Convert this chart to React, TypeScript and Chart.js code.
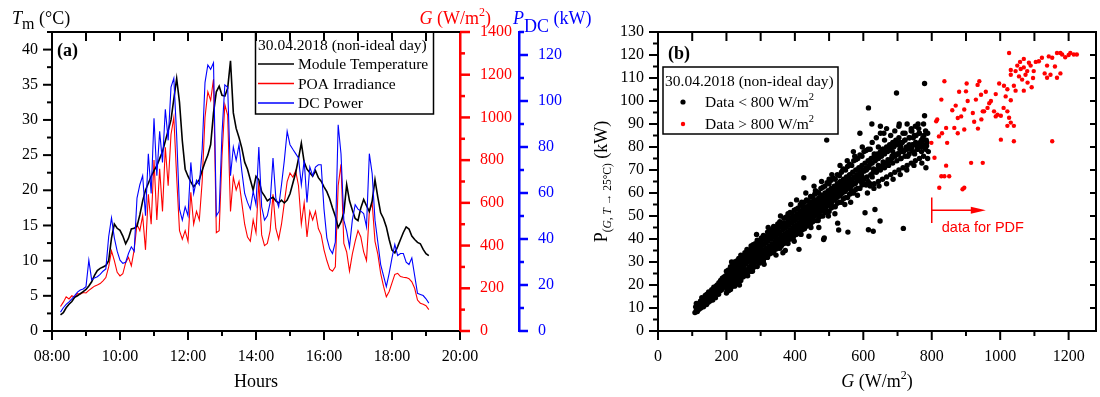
import React, { useEffect, useRef } from "react";
import { Chart, registerables } from "chart.js";

Chart.register(...registerables);

const SERIF = '"Liberation Serif", "Times New Roman", serif';
const SANS = '"Liberation Sans", Arial, sans-serif';
const RED = "#ff0000";
const BLUE = "#0000ff";

// ---------------- Panel (a): 30.04.2018 time series (5-min samples from 08:15) ----------------
const SAMPLE_START_HOUR = 8.25;
const SAMPLE_STEP_MIN = 5;

const MODULE_TEMP = [
  2.3, 2.6, 3.3, 3.8, 4.2, 4.8, 5.0, 5.3, 5.6, 5.9,
  6.4, 7.0, 7.9, 8.6, 8.9, 9.1, 9.3, 10.0, 13.2, 15.2,
  14.6, 14.3, 13.5, 12.4, 13.2, 14.5, 14.6, 14.9, 16.5, 18.5,
  20.0, 21.0, 22.0, 22.8, 23.5, 24.5, 25.5, 27.0, 28.5, 30.0,
  33.0, 35.9, 32.5, 27.0, 23.0, 22.0, 21.2, 20.5, 21.0, 21.5,
  22.8, 24.0, 25.0, 26.5, 31.0, 34.0, 34.8, 33.5, 33.4, 34.5,
  38.4, 31.0, 28.8, 27.5, 26.0, 24.0, 23.0, 21.5, 20.0, 22.0,
  21.5, 19.8, 19.2, 18.5, 18.8, 19.0, 18.5, 18.2, 18.6, 18.2,
  18.6, 19.5, 21.0, 22.5, 24.5, 26.7, 24.0, 23.0, 22.5, 22.0,
  22.8, 21.8, 21.3, 20.5, 19.8, 18.8, 17.5, 16.3, 14.7, 15.5,
  16.8, 20.8, 18.5, 17.2, 16.0, 15.7, 17.5, 18.7, 17.8, 17.0,
  18.5, 21.5, 19.0, 16.8, 16.0, 14.8, 13.0, 11.5, 11.1, 12.0,
  13.0, 14.0, 14.8, 14.5, 13.5, 13.0, 12.6, 12.4, 11.6, 11.0,
  10.7,
];

const POA_IRRADIANCE = [
  115, 135, 160, 150, 165, 158, 175, 172, 180, 178,
  190, 200, 210, 215, 222, 235, 250, 300, 375, 330,
  275, 258, 268, 320, 345, 305, 380, 500, 470, 540,
  380, 640, 500, 800, 520, 760, 560, 860, 680, 920,
  1000, 720, 470, 430, 470, 420, 650, 500, 560, 520,
  700, 1000, 1120, 1080, 1180, 460, 470, 820, 1060, 1010,
  560, 720, 660, 700, 600, 500, 440, 420, 520, 460,
  700, 450, 400, 410, 470, 640, 480, 430, 500, 600,
  700, 740, 720, 750, 680, 500, 600, 440, 560, 520,
  560, 480, 450, 380, 330, 290, 280, 300, 680, 780,
  410, 370, 280, 360, 420, 470, 440, 370, 330, 560,
  600, 420, 360, 270, 210, 160, 185, 225, 265, 270,
  255, 252, 250, 245, 230, 200, 145, 130, 125, 118,
  100,
];

const DC_POWER = [
  8.2, 10.1, 11.6, 12.7, 14.0, 15.4, 16.9, 17.8, 18.3, 19.3,
  30.8, 22.2, 23.1, 23.6, 24.6, 26.0, 27.0, 41.0, 49.2, 40.5,
  34.7, 30.8, 29.4, 29.9, 33.7, 36.6, 34.7, 57.8, 63.6, 67.5,
  50.1, 77.1, 59.8, 92.5, 67.5, 86.8, 73.3, 96.4, 82.9, 106.0,
  109.9, 84.8, 53.0, 48.2, 54.0, 50.1, 73.3, 59.8, 65.6, 63.6,
  79.0, 108.0, 115.7, 113.8, 116.6, 50.1, 52.1, 85.8, 107.0, 106.0,
  67.5, 80.0, 74.2, 81.0, 69.4, 59.8, 55.9, 53.0, 60.7, 54.9,
  80.0, 54.0, 48.2, 50.1, 55.9, 75.2, 57.8, 54.0, 63.6, 74.2,
  86.8, 81.0, 79.0, 77.1, 75.2, 63.6, 74.2, 55.9, 71.3, 67.5,
  71.3, 72.3, 72.3, 53.0, 40.5, 35.7, 33.7, 38.6, 89.7, 77.1,
  48.2, 43.4, 36.6, 48.2, 54.9, 53.0, 52.1, 51.1, 45.3, 77.1,
  68.4, 48.2, 38.6, 28.9, 24.1, 19.3, 25.1, 31.8, 37.6, 32.8,
  33.7, 33.7, 29.9, 28.9, 31.8, 24.1, 16.4, 15.9, 15.4, 14.0,
  12.1,
];

const HOUR_TICKS = [8, 10, 12, 14, 16, 18, 20];
const TEMP_TICKS = [0, 5, 10, 15, 20, 25, 30, 35, 40];
const IRR_TICKS = [0, 200, 400, 600, 800, 1000, 1200, 1400];
const POWER_TICKS = [0, 20, 40, 60, 80, 100, 120];
const LEGEND_A = ["Module Temperature", "POA Irradiance", "DC Power"];
const DAY_LABEL = "30.04.2018 (non-ideal day)";

// ---------------- Panel (b): P(G, T->25°C) vs G ----------------
const BELOW_800: number[][] = [
  [108,8],[110,10.5],[112,9],[114,11.5],[115,8.5],[117,10],[119,12],[120,9.5],[122,11],[124,13],
  [125,10],[127,12],[128,14.5],[130,11],[132,13],[133,10.5],[135,14],[137,12],[138,15.5],[140,13],
  [142,11.5],[143,16],[145,14],[147,12.5],[148,17],[150,15],[152,13],[153,16.5],[155,14.5],[157,18],
  [158,15.5],[160,13.5],[162,17],[163,19],[165,16],[167,18],[168,14.5],[170,19.5],[172,17],[173,20],
  [175,18],[177,16],[178,21],[180,19],[182,17.5],[183,22],[185,20],[187,18],[188,23],[190,21],
  [192,19],[193,23.5],[195,21.5],[197,20],[198,24],[200,22],
  [112,12],[118,10.5],[126,11.5],[134,12.5],[141,14.5],[149,15.5],[156,16.5],[164,17.5],[171,18.5],[179,19.5],[186,21],[194,22.5],
  [202,20],[204,25],[206,23],[208,21],[210,26],[212,24],[214,22],[216,27],[218,25],[220,23],
  [222,28],[224,26],[226,24],[228,29],[230,27],[232,25],[234,30],[236,28],[238,26],[240,31],
  [242,29],[244,27],[246,32],[248,30],[250,28],[252,33],[254,31],[256,29],[258,33.5],[260,32],
  [262,30],[264,34],[266,32.5],[268,30.5],[270,35],[272,33],[274,31],[276,36],[278,34],[280,32],
  [282,36.5],[284,34.5],[286,33],[288,37.5],[290,35.5],[292,33.5],[294,38],[296,36],[298,34],[300,39],
  [303,37],[306,35],[309,40],[312,38],[315,36],[318,41],[321,39],[324,37],[327,42],[330,40],
  [333,38],[336,43],[339,41],[342,39],[345,44],[348,42],[350,40],
  [205,22.5],[215,24],[225,27],[235,27.5],[245,30],[255,30.5],[265,31.5],[275,33.5],[285,35.5],[295,36.5],
  [305,38],[315,38.5],[325,40],[335,41],[345,42],[276,26],[290,31],[268,28],[310,34],
  [353,45],[356,43],[359,41],[362,46],[365,44],[368,42],[371,47],[374,45],[377,43],[380,48],
  [383,46],[386,44],[389,49],[392,47],[395,45],[398,50],[401,48],[404,46],[407,51],[410,49],
  [413,47],[416,52],[419,50],[422,48],[425,53],[428,51],[431,49],[434,54],[437,52],[440,50],
  [443,55],[446,53],[449,51],[452,56],[455,54],[458,52],[461,57],[464,55],[467,53],[470,58],
  [473,56],[476,54],[479,59],[482,57],[485,55],[488,60],[491,58],[494,56],[497,61],[500,59],
  [503,57],[506,62],[509,60],[512,58],[515,63],[518,61],[521,59],[524,64],[527,62],[530,60],
  [533,65],[536,63],[539,61],[542,66],[545,64],[548,62],
  [355,42.5],[365,44.5],[375,45.5],[385,47],[395,48],[405,49],[415,50],[425,51.5],[435,52.5],[445,54],
  [455,55],[465,56],[475,57],[485,58],[495,59.5],[505,60],[515,61.5],[525,62.5],[535,64],[545,65],
  [551,67],[554,65],[557,63],[560,68],[563,66],[566,61],[569,69],[572,67],[575,64],[578,70],
  [581,68],[584,62],[587,71],[590,69],[593,65],[596,72],[599,70],[602,66],[605,73],[608,71],
  [611,67],[614,74],[617,72],[620,64],[623,75],[626,73],[629,69],[632,76],[635,74],[638,70],
  [641,77],[644,75],[647,71],[650,78],[653,76],[656,72],[659,79],[662,77],[665,73],[668,80],
  [671,78],[674,74],[677,81],[680,79],[683,75],[686,82],[689,80],[692,76],[695,83],[698,81],
  [701,77],[704,84],[707,79],[710,75],[714,82],[718,78],[722,86],[726,80],[730,76],[734,84],
  [738,79],[742,87],[746,81],[750,77],[754,85],[758,80],[762,88],[766,82],[770,78],[774,84],
  [778,80],[782,87],[786,82],[790,78],
  // upper side of the cloud
  [200,26],[206,26.5],[212,28],[218,28.5],[224,30],[230,30.5],[236,31.5],[242,33],[248,32.5],[254,34],
  [260,35.5],[266,35],[272,37],[278,37.5],[284,38],[290,39.5],[296,39],[302,40.5],[308,41.5],[314,41],
  [320,43],[326,43.5],[332,44],[338,45.5],[344,45],[350,46.5],[356,47.5],[362,47],[368,49],[374,49.5],
  [380,50],[386,51.5],[392,51],[398,52.5],[404,53],[410,53.5],[416,55],[422,54.5],[428,56],[434,57],
  [440,56.5],[446,58.5],[452,58],[458,59.5],[464,60.5],[470,60],[476,62],[482,62.5],[488,63],[494,64.5],
  [500,64],[506,65.5],[512,66.5],[518,66],[524,68],[530,67.5],[536,69],[542,70.5],[548,70],[554,71.5],
  [560,72.5],[566,72],[572,74],[578,74.5],[584,75],[590,76.5],[596,76],[602,78],[608,78.5],[614,79],
  [620,79],[626,82],[632,77],[638,84],[644,80],[650,86],[656,79],[662,83],[668,88],[674,80],
  [680,85],[686,78],[692,87],[698,82],[704,89],[710,80],[716,86],[722,83],[728,90],[734,81],
  [740,87],[746,84],[752,89],[758,79],[764,86],[770,83],[776,90],[782,81],[788,86],
  // lower side of the cloud
  [200,16.5],[206,17.5],[212,18],[218,19.5],[224,19.5],[230,21],[236,22],[242,22],[248,23.5],[254,24],
  [260,24.5],[266,26],[272,26],[278,27.5],[284,28],[290,28],[296,29.5],[302,30],[308,30.5],[314,32],
  [320,32],[326,33.5],[332,34],[338,34],[344,35.5],[350,36],[356,36],[362,37.5],[368,38],[374,38.5],
  [380,39.5],[386,40],[392,40.5],[398,41.5],[404,42],[410,42.5],[416,43.5],[422,44],[428,44.5],[434,45.5],
  [440,46],[446,46.5],[452,47.5],[458,48],[464,48],[470,49.5],[476,50],[482,50],[488,51.5],[494,52],
  [500,52],[506,53.5],[512,54],[518,54],[524,55.5],[530,56],[536,56],[542,57.5],[548,58],[554,58],
  [560,59.5],[566,60],[572,60],[578,61.5],[584,62],[590,62],[596,63.5],[602,64],[608,63.5],[614,65],
  [620,63],[626,67],[632,64],[638,69],[644,65],[650,70],[656,66],[662,71],[668,67],[674,72],
  [680,68],[686,73],[692,69],[698,74],[704,70],[710,75],[716,71],[722,76],[728,72],[734,77],
  [740,73],[746,78],[752,74],[758,79],[764,75],[770,80],[776,76],[782,79],[788,75],
  // inner fill
  [203,18.5],[210,19.5],[217,20.5],[224,21.5],[231,22.5],[238,23.5],[245,24.5],[252,25.5],[259,26.5],[266,27.5],
  [273,28.5],[280,29.5],[287,30.5],[294,31.5],[301,32],[308,33],[315,34],[322,35],[329,36],[336,37],
  [343,38],[350,38.5],[357,39.5],[364,40.5],[371,41.5],[378,42.5],[385,43.5],[392,44],[399,45],[406,46],
  [413,47],[420,48],[427,48.5],[434,49.5],[441,50.5],[448,51.5],[455,52],[462,53],[469,54],[476,55],
  [483,55.5],[490,56.5],[497,57.5],[504,58],[511,59],[518,60],[525,60.5],[532,61.5],[539,62.5],[546,63],
  [553,64],[560,65],[567,65.5],[574,66.5],[581,67],[588,68],[595,68.5],[602,69.5],[609,70],[616,71],
  [623,73],[630,70.5],[637,75],[644,72],[651,77],[658,73.5],[665,78],[672,74.5],[679,80],[686,76],
  [693,81],[700,77],[707,82],[714,78],[721,83],[728,79],[735,84],[742,80],[749,85],[756,81],
  [763,86],[770,82],[777,85],[784,83],
  // fill between lower side and inner fill
  [202,17.8],[207,18.7],[212,19.1],[217,20.2],[222,20.7],[227,21.6],[232,22.6],[237,23],[242,24],[247,24.6],
  [252,25.3],[257,26.3],[262,26.7],[267,27.6],[272,28.4],[277,28.9],[282,29.9],[287,30.1],[292,30.9],[297,31.3],
  [302,31.4],[307,32.4],[312,32.9],[317,33.3],[322,34.2],[327,34.5],[332,35.2],[337,35.9],[342,36.1],[347,37],
  [352,37.6],[357,37.9],[362,38.8],[367,39.1],[372,39.7],[377,40.5],[382,40.8],[387,41.7],[392,42.1],[397,42.6],
  [402,43.6],[407,43.9],[412,44.6],[417,45.4],[422,45.6],[427,46.5],[432,47],[437,47.3],[442,48.3],[447,48.6],
  [452,49.2],[457,50.1],[462,50.4],[467,51.2],[472,51.9],[477,52.1],[482,53],[487,53.6],[492,54],[497,54.8],
  [502,55.3],[507,55.9],[512,56.8],[517,57],[522,57.9],[527,58.6],[532,58.8],[537,59.8],[542,60.4],[547,60.6],
  [552,61.6],[557,62.2],[562,62.5],[567,63.4],[572,64.1],[577,64.3],[582,65.2],[587,65.9],[592,66.1],[597,67],
  [622,68],[633,69.5],[642,70],[655,71.5],[664,73],[676,74],[684,76],[695,76.5],[703,77],[713,78.5],
  [724,79],[733,80],[744,81],[753,82],[765,81.5],[775,83],[785,80.5],
  // scattered points
  [365,34],[372,35],[380,38],[395,40],[360,37],[412,35.5],[441,41.2],[470,45],[484,39.8],[486,40.5],
  [525,46.9],[528,43.9],[555,43],[605,51.4],[615,44],[629,43.4],[634,52.8],[649,47.8],[717,44.6],[426,66.6],
  [493,83],[590,86],[615,97],[625,90],[650,89],[697,103.5],[779,107.6],[779,93.6],[380,51],[420,56],
  [460,61],[500,66],[540,70],[575,76],[660,86],[740,88],[760,90],[705,90],
  [215,30],[238,20],[262,24],[288,42],[310,29],[322,45],[345,33],[358,50],[372,39],[388,55],
  [398,39],[405,57],[418,42],[432,60],[447,45],[456,63],[468,48],[478,65],[498,50],[508,68],
  [517,51],[532,72],[546,55],[553,74],[563,56],[571,78],[583,59],[597,80],[612,60],[631,62],
  [646,63],[668,64],[687,66],[708,68],[727,70],[748,72],[771,73],[783,71],
];

const ABOVE_800: number[][] = [
  [799,81.8],[808,75.3],[813,91.2],[816,92],[821,84.6],[828,100.6],[830,86],[837,108.6],[842,88.3],[842,71.9],
  [828,67.3],[837,67.3],[851,67.3],[822,62.3],[845,81.8],[866,88.3],[876,86],[876,92.6],[886,93.3],[895,87.6],
  [895,96.3],[900,104.2],[905,100],[902,107.6],[895,62.3],[890,61.6],[920,94.8],[929,100.6],[934,107],[939,108.6],
  [949,73.1],[915,73.1],[949,95.5],[924,91],[944,102.7],[953,95.5],[963,97],[973,100],[987,103],[997,107.6],
  [992,94],[1002,93.6],[1011,106.6],[1002,83.2],[1021,105.1],[1031,111.4],[1040,106.6],[1031,113.5],[1026,120.9],[1031,100.3],
  [1021,95.5],[1026,92.7],[1031,90.6],[1040,89.2],[1021,89.2],[1040,82.5],[1050,115.4],[1060,113.9],[1069,114.6],[1079,113],
  [1084,116.6],[1074,111.4],[1055,110.7],[1064,109.3],[1045,113],[1089,115.4],[1069,118.3],[1045,104.5],[1069,104.5],[1098,113],
  [1113,117.3],[1122,118.8],[1137,115.4],[1142,119.4],[1152,118.8],[1137,110.1],[1147,111.4],[1152,82.5],[1166,120.9],[1176,120.9],
  [1181,120.2],[1205,120.9],[1215,120.2],[1224,120.2],[1176,112],[1166,110.1],[982,95.5],[987,93.3],[1096,110],[1058,117],
  [1080,108],[1092,106],[860,96],[870,98],[958,104],[968,99],[1010,97],[1016,102],[935,88],[945,92],
  [880,104],[1104,117],[1130,112],[1160,115],[1190,119],[1200,120],
];

const G_TICKS_B = [0, 200, 400, 600, 800, 1000, 1200];
const P_TICKS_B = [0, 10, 20, 30, 40, 50, 60, 70, 80, 90, 100, 110, 120, 130];
const LEGEND_B = ["Data < 800 W/m", "Data > 800 W/m"];
const PDF_THRESHOLD = 800;
const PDF_ARROW_END = 958;
const PDF_NOTE = "data for PDF";

// ---------------- helpers ----------------
type Seg = { t: string; size: number; style?: string; dy?: number; family?: string };
const fontOf = (s: Seg) => `${s.style ? s.style + " " : ""}${s.size}px ${s.family || SERIF}`;

function drawRich(ctx: any, segs: Seg[], x: number, y: number, align: string, color: string) {
  ctx.textBaseline = "alphabetic";
  ctx.textAlign = "left";
  ctx.fillStyle = color;
  let w = 0;
  for (const s of segs) {
    ctx.font = fontOf(s);
    w += ctx.measureText(s.t).width;
  }
  let cx = align === "left" ? x : align === "center" ? x - w / 2 : x - w;
  for (const s of segs) {
    ctx.font = fontOf(s);
    ctx.fillText(s.t, cx, y + (s.dy || 0));
    cx += ctx.measureText(s.t).width;
  }
}

function seg(ctx: any, x1: number, y1: number, x2: number, y2: number, color: string, w: number) {
  ctx.strokeStyle = color;
  ctx.lineWidth = w;
  ctx.beginPath();
  ctx.moveTo(x1, y1);
  ctx.lineTo(x2, y2);
  ctx.stroke();
}

function steps(a: number, b: number, step: number) {
  const out: number[] = [];
  for (let v = a; v <= b + 1e-9; v += step) out.push(Math.round(v * 1000) / 1000);
  return out;
}

const fmtHour = (h: number) => String(h).padStart(2, "0") + ":00";

// ---------------- panel (a) decorations ----------------
const panelAPlugin = {
  id: "panelADecor",
  afterDraw(chart: any) {
    const { ctx, chartArea: ca } = chart;
    const xs = chart.scales.x, yT = chart.scales.yT, yG = chart.scales.yG, yP = chart.scales.yP;
    ctx.save();
    ctx.lineCap = "butt";
    seg(ctx, ca.left - 1, ca.top, ca.right, ca.top, "#000", 2);
    for (const h of steps(9, 19, 1)) {
      const px = xs.getPixelForValue(h);
      seg(ctx, px, ca.top, px, ca.top + 9, "#000", 2);
    }
    for (const h of steps(8, 20, 1)) {
      const px = xs.getPixelForValue(h);
      seg(ctx, px, ca.bottom, px, ca.bottom + (h % 2 === 0 ? 9 : 5), "#000", 2);
    }
    for (const v of steps(0, 42.5, 2.5)) {
      const py = yT.getPixelForValue(v);
      seg(ctx, ca.left, py, ca.left - (v % 5 === 0 ? 9 : 5), py, "#000", 2);
    }
    const gx = yG.left;
    for (const v of steps(0, 1400, 100)) {
      const py = yG.getPixelForValue(v);
      seg(ctx, gx, py, gx + (v % 200 === 0 ? 10 : 5), py, RED, 2.5);
    }
    const px0 = yP.left;
    for (const v of steps(0, 130, 10)) {
      const py = yP.getPixelForValue(v);
      seg(ctx, px0, py, px0 + (v % 20 === 0 ? 9 : 5), py, BLUE, 2.5);
    }
    ctx.font = `16px ${SERIF}`;
    ctx.textBaseline = "middle";
    ctx.fillStyle = "#000";
    ctx.textAlign = "right";
    for (const v of TEMP_TICKS) ctx.fillText(String(v), ca.left - 14, yT.getPixelForValue(v));
    ctx.textAlign = "center";
    for (const h of HOUR_TICKS) ctx.fillText(fmtHour(h), xs.getPixelForValue(h), ca.bottom + 26);
    ctx.textAlign = "left";
    ctx.fillStyle = RED;
    for (const v of IRR_TICKS) ctx.fillText(String(v), gx + 20, yG.getPixelForValue(v));
    ctx.fillStyle = BLUE;
    for (const v of POWER_TICKS) ctx.fillText(String(v), px0 + 19, yP.getPixelForValue(v));

    drawRich(ctx, [{ t: "T", size: 18, style: "italic" }, { t: "m", size: 16, dy: 5 }, { t: " (°C)", size: 18 }], 12, 24, "left", "#000");
    drawRich(ctx, [{ t: "G", size: 18, style: "italic" }, { t: " (W/m", size: 18 }, { t: "2", size: 12, dy: -8 }, { t: ")", size: 18 }], 491, 24, "right", RED);
    drawRich(ctx, [{ t: "P", size: 18, style: "italic" }, { t: "DC", size: 18, dy: 8 }, { t: " (kW)", size: 18 }], 513, 24, "left", BLUE);
    drawRich(ctx, [{ t: "Hours", size: 18 }], (ca.left + ca.right) / 2, 387, "center", "#000");
    drawRich(ctx, [{ t: "(a)", size: 18, style: "bold" }], 57, 56, "left", "#000");

    ctx.strokeStyle = "#000";
    ctx.lineWidth = 1.5;
    ctx.strokeRect(255.5, ca.top, 178, 82);
    drawRich(ctx, [{ t: DAY_LABEL, size: 15.5 }], 258, 50, "left", "#000");
    const colors = ["#000", RED, BLUE];
    const rowsY = [64, 83.5, 103];
    LEGEND_A.forEach((label, i) => {
      seg(ctx, 258, rowsY[i], 294, rowsY[i], colors[i], 1.5);
      drawRich(ctx, [{ t: label, size: 15.5 }], 298, rowsY[i] + 5, "left", "#000");
    });
    ctx.restore();
  },
};

// ---------------- panel (b) decorations ----------------
const panelBPlugin = {
  id: "panelBDecor",
  afterDraw(chart: any) {
    const { ctx, chartArea: ca } = chart;
    const xs = chart.scales.x, ys = chart.scales.y;
    ctx.save();
    ctx.lineCap = "butt";
    seg(ctx, ca.left - 1, ca.top, ca.right + 1, ca.top, "#000", 2);
    seg(ctx, ca.right, ca.top, ca.right, ca.bottom + 1, "#000", 2);
    for (const g of steps(100, 1200, 100)) {
      const px = xs.getPixelForValue(g);
      seg(ctx, px, ca.top, px, ca.top + 9, "#000", 2);
    }
    for (const p of steps(10, 120, 10)) {
      const py = ys.getPixelForValue(p);
      seg(ctx, ca.right, py, ca.right - 6, py, "#000", 2);
    }
    for (const g of steps(0, 1200, 100)) {
      const px = xs.getPixelForValue(g);
      seg(ctx, px, ca.bottom, px, ca.bottom + (g % 200 === 0 ? 9 : 5), "#000", 2);
    }
    for (const p of steps(0, 130, 5)) {
      const py = ys.getPixelForValue(p);
      seg(ctx, ca.left, py, ca.left - (p % 10 === 0 ? 9 : 5), py, "#000", 2);
    }
    ctx.font = `16px ${SERIF}`;
    ctx.textBaseline = "middle";
    ctx.fillStyle = "#000";
    ctx.textAlign = "right";
    for (const p of P_TICKS_B) ctx.fillText(String(p), ca.left - 14, ys.getPixelForValue(p));
    ctx.textAlign = "center";
    for (const g of G_TICKS_B) ctx.fillText(String(g), xs.getPixelForValue(g), ca.bottom + 26);

    drawRich(ctx, [{ t: "G", size: 18, style: "italic" }, { t: " (W/m", size: 18 }, { t: "2", size: 12, dy: -8 }, { t: ")", size: 18 }], (ca.left + ca.right) / 2, 387, "center", "#000");
    ctx.save();
    ctx.translate(27, (ca.top + ca.bottom) / 2);
    ctx.rotate(-Math.PI / 2);
    drawRich(ctx, [
      { t: "P", size: 18 },
      { t: "(", size: 11.5, dy: 4 },
      { t: "G", size: 11.5, style: "italic", dy: 4 },
      { t: ", ", size: 11.5, dy: 4 },
      { t: "T", size: 11.5, style: "italic", dy: 4 },
      { t: " \u2192 25°C)", size: 11.5, dy: 4 },
      { t: " (kW)", size: 18 },
    ], 0, 0, "center", "#000");
    ctx.restore();
    drawRich(ctx, [{ t: "(b)", size: 18, style: "bold" }], 88, 59, "left", "#000");

    ctx.strokeStyle = "#000";
    ctx.lineWidth = 1.5;
    ctx.strokeRect(83, 67, 175, 67);
    drawRich(ctx, [{ t: DAY_LABEL, size: 15.5 }], 85, 86, "left", "#000");
    const dotColors = ["#000", RED];
    const rowsY = [102, 124];
    LEGEND_B.forEach((label, i) => {
      ctx.fillStyle = dotColors[i];
      ctx.beginPath();
      ctx.arc(103, rowsY[i], i === 0 ? 2.6 : 2.2, 0, Math.PI * 2);
      ctx.fill();
      drawRich(ctx, [{ t: label, size: 15.5 }, { t: "2", size: 10.5, dy: -7 }], 125, rowsY[i] + 5, "left", "#000");
    });

    const x800 = xs.getPixelForValue(PDF_THRESHOLD);
    const yArr = ys.getPixelForValue(52.5);
    seg(ctx, x800, ys.getPixelForValue(58), x800, ys.getPixelForValue(47), RED, 1.5);
    const tip = xs.getPixelForValue(PDF_ARROW_END);
    seg(ctx, x800, yArr, tip - 10, yArr, RED, 1.5);
    ctx.fillStyle = RED;
    ctx.beginPath();
    ctx.moveTo(tip, yArr);
    ctx.lineTo(tip - 15, yArr - 3.5);
    ctx.lineTo(tip - 15, yArr + 3.5);
    ctx.closePath();
    ctx.fill();
    drawRich(ctx, [{ t: PDF_NOTE, size: 14.5, family: SANS }], x800 + 10, yArr + 22, "left", RED);
    ctx.restore();
  },
};

const hiddenAxis = (extra: any) => ({
  type: "linear",
  grid: { display: false, drawTicks: false },
  ticks: { display: false },
  title: { display: false },
  ...extra,
});

export default function App() {
  const refA = useRef<HTMLCanvasElement>(null);
  const refB = useRef<HTMLCanvasElement>(null);

  useEffect(() => {
    const toXY = (arr: number[]) =>
      arr.map((v, i) => ({ x: SAMPLE_START_HOUR + (i * SAMPLE_STEP_MIN) / 60, y: v }));

    const chartA = new Chart(refA.current as HTMLCanvasElement, {
      type: "line",
      data: {
        datasets: [
          { label: LEGEND_A[0], data: toXY(MODULE_TEMP), yAxisID: "yT", borderColor: "#000", borderWidth: 1.6, pointRadius: 0, order: 1 },
          { label: LEGEND_A[1], data: toXY(POA_IRRADIANCE), yAxisID: "yG", borderColor: RED, borderWidth: 1.1, pointRadius: 0, order: 2 },
          { label: LEGEND_A[2], data: toXY(DC_POWER), yAxisID: "yP", borderColor: BLUE, borderWidth: 1.1, pointRadius: 0, order: 0 },
        ],
      } as any,
      options: {
        responsive: false,
        animation: false,
        events: [],
        layout: { padding: { top: 32, left: 0, right: 0, bottom: 0 } },
        plugins: { legend: { display: false }, tooltip: { enabled: false } },
        scales: {
          x: hiddenAxis({ position: "bottom", min: 8, max: 20, border: { display: true, color: "#000", width: 2 }, afterFit: (s: any) => { s.height = 66; } }),
          yT: hiddenAxis({ position: "left", min: 0, max: 42.5, border: { display: true, color: "#000", width: 2 }, afterFit: (s: any) => { s.width = 52; } }),
          yG: hiddenAxis({ position: "right", weight: 0, min: 0, max: 1400, border: { display: true, color: RED, width: 2.5 }, afterFit: (s: any) => { s.width = 59; } }),
          yP: hiddenAxis({ position: "right", weight: 1, min: 0, max: 130, border: { display: true, color: BLUE, width: 2.5 }, afterFit: (s: any) => { s.width = 81; } }),
        },
      } as any,
      plugins: [panelAPlugin],
    });

    const chartB = new Chart(refB.current as HTMLCanvasElement, {
      type: "scatter",
      data: {
        datasets: [
          { label: LEGEND_B[1], data: ABOVE_800.map(([g, p]) => ({ x: g, y: p })), backgroundColor: RED, borderWidth: 0, pointRadius: 2.2, order: 0 },
          { label: LEGEND_B[0], data: BELOW_800.map(([g, p]) => ({ x: g, y: p })), backgroundColor: "#000", borderWidth: 0, pointRadius: 2.7, order: 1 },
        ],
      } as any,
      options: {
        responsive: false,
        animation: false,
        events: [],
        layout: { padding: { top: 32, left: 0, right: 1, bottom: 0 } },
        plugins: { legend: { display: false }, tooltip: { enabled: false } },
        scales: {
          x: hiddenAxis({ position: "bottom", min: 0, max: 1280, border: { display: true, color: "#000", width: 2 }, afterFit: (s: any) => { s.height = 66; } }),
          y: hiddenAxis({ position: "left", min: 0, max: 130, border: { display: true, color: "#000", width: 2 }, afterFit: (s: any) => { s.width = 78; } }),
        },
      } as any,
      plugins: [panelBPlugin],
    });

    return () => {
      chartA.destroy();
      chartB.destroy();
    };
  }, []);

  return (
    <div style={{ position: "absolute", left: 0, top: 0, width: 1100, height: 397, background: "#fff", overflow: "hidden" }}>
      <canvas ref={refA} width={600} height={397} style={{ position: "absolute", left: 0, top: 0, width: 600, height: 397 }} />
      <canvas ref={refB} width={520} height={397} style={{ position: "absolute", left: 580, top: 0, width: 520, height: 397 }} />
    </div>
  );
}
